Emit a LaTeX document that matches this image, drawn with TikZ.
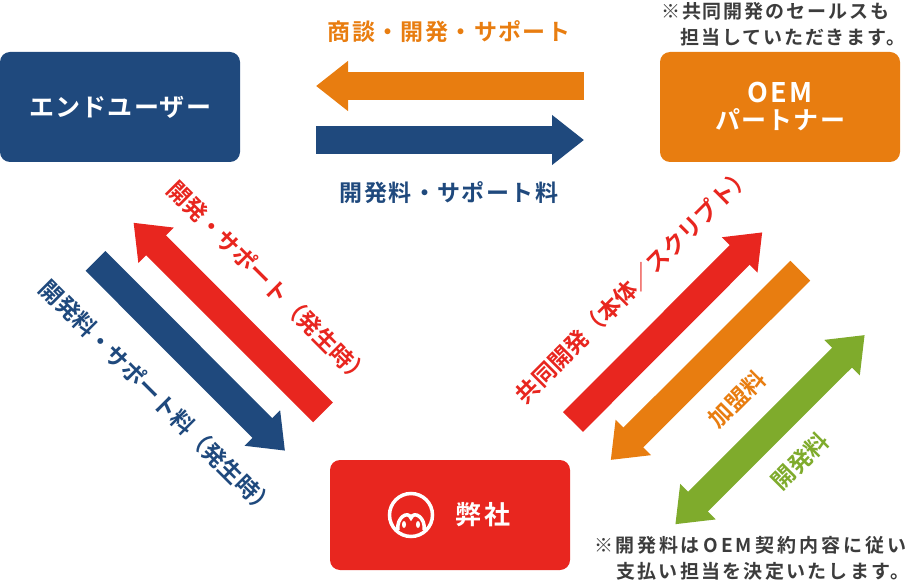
\documentclass[tikz,border=0pt]{standalone}
\usepackage{fontspec}
\setmainfont{Noto Sans CJK JP}[BoldFont={* Bold}]
\usetikzlibrary{arrows.meta}
\definecolor{cblue}{HTML}{1F497D}
\definecolor{cred}{HTML}{E8261F}
\definecolor{corange}{HTML}{E87D10}
\definecolor{cgreen}{HTML}{7FAB2C}
\definecolor{cnote}{HTML}{3C3C3C}
\tikzset{
 box/.style={rounded corners=10pt,minimum width=240pt,minimum height=110pt,inner sep=0pt,text=white,font=\fontsize{25}{27}\selectfont\bfseries\addfontfeatures{LetterSpace=5},align=center},
 onearrow/.style={line width=28pt,-{Triangle[length=32pt,width=48pt,sep=0pt]}},
 twoarrow/.style={line width=28pt,{Triangle[length=32pt,width=48pt,sep=0pt]}-{Triangle[length=32pt,width=48pt,sep=0pt]}},
 lab/.style={inner sep=0pt,font=\fontsize{23}{24}\selectfont\bfseries\addfontfeatures{LetterSpace=6}},
 diag/.style={inner sep=0pt,font=\fontsize{23}{24}\selectfont\bfseries},
 note/.style={inner sep=0pt,text=cnote,align=left,anchor=west,font=\fontsize{19}{26}\selectfont\bfseries\addfontfeatures{LetterSpace=10}},
}
\begin{document}
\begin{tikzpicture}[x=1pt,y=-1pt]
\useasboundingbox (0,0) rectangle (912,585);
\node[box,fill=cblue] (user) at (120,107) {エンドユーザー};
\node[box,fill=corange] (oem) at (780,107) {{\fontsize{27}{27}\selectfont\addfontfeatures{LetterSpace=8}OEM}\\パートナー};
\node[box,fill=cred] (us) at (450,515) {};
\node[inner sep=0pt,text=white,font=\fontsize{26}{28}\selectfont\bfseries\addfontfeatures{LetterSpace=8}] (ustext) at (483,515) {弊社};
\draw[white,line width=3.5pt] (411,515) circle (21.5pt);
\draw[white,line width=3.5pt] (398,530) .. controls (396,518) and (408,510) .. (411,518) .. controls (414,510) and (426,518) .. (424,530);
\fill[white] (404,524.5) ellipse (2pt and 3.5pt) (418,524.5) ellipse (2pt and 3.5pt);
\coordinate (a1) at (584,86); \coordinate (a2) at (316,86);
\coordinate (b1) at (316,140); \coordinate (b2) at (584,140);
\coordinate (c1) at (323,412.4); \coordinate (c2) at (133.5,222.7);
\coordinate (d1) at (95.5,260.9); \coordinate (d2) at (285,450.7);
\coordinate (e1) at (573,422); \coordinate (e2) at (762.3,232.3);
\coordinate (f1) at (800.3,270.7); \coordinate (f2) at (610.7,460);
\coordinate (g1) at (675.3,524.3); \coordinate (g2) at (864.7,335);
\draw[onearrow,corange] (a1)--(a2);
\draw[onearrow,cblue] (b1)--(b2);
\draw[onearrow,cred] (c1)--(c2);
\draw[onearrow,cblue] (d1)--(d2);
\draw[onearrow,cred] (e1)--(e2);
\draw[onearrow,corange] (f1)--(f2);
\draw[twoarrow,cgreen] (g1)--(g2);
\node[lab,text=corange] (t1) at (449,32) {商談・開発・サポート};
\node[lab,text=cblue] (t2) at (449,193) {開発料・サポート料};
\node[diag,text=cred,rotate=-45] (t3) at (269,283) {開発・サポート（発生時）};
\node[diag,text=cblue,rotate=-45] (t4) at (158,398) {開発料・サポート料（発生時）};
\node[diag,text=cred,rotate=45] (t5) at (633.5,285) {共同開発（本体／スクリプト）};
\node[diag,text=corange,rotate=45] (t6) at (737,399) {加盟料};
\node[diag,text=cgreen,rotate=45] (t7) at (800,461) {開発料};
\node[note] (n1) at (661,24) {※共同開発のセールスも\\\phantom{※}担当していただきます。};
\node[note] (n2) at (594,558.5) {{\addfontfeatures{LetterSpace=14}※開発料は}\hspace{4pt}{\addfontfeatures{LetterSpace=14}OEM}\hspace{4pt}{\addfontfeatures{LetterSpace=16}契約内容に従い}\\\phantom{※}\hspace{3pt}{\addfontfeatures{LetterSpace=12}支払い担当を決定いたします。}};
\end{tikzpicture}
\end{document}
